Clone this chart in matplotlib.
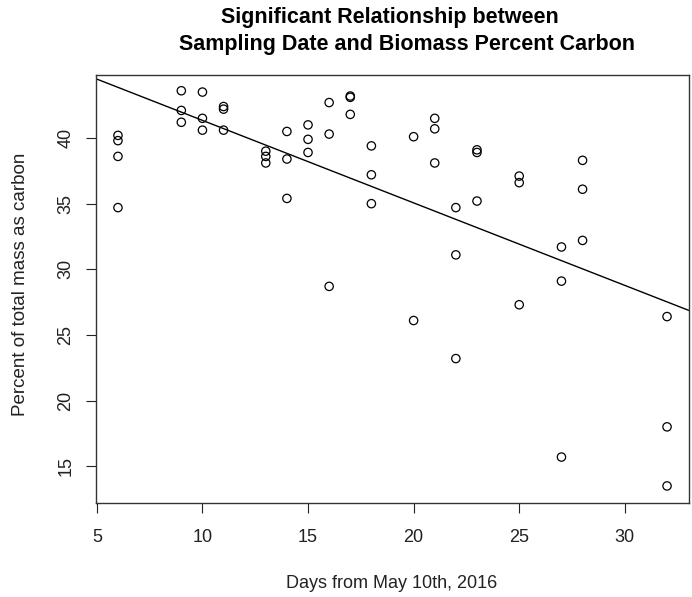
import numpy as np
import matplotlib
matplotlib.use('Agg')
import matplotlib.pyplot as plt

plt.rcParams['font.family'] = ['Liberation Sans', 'DejaVu Sans']

days = [6, 6, 6, 6,
        9, 9, 9,
        10, 10, 10,
        11, 11, 11,
        13, 13, 13,
        14, 14, 14,
        15, 15, 15,
        16, 16, 16,
        17, 17, 17,
        18, 18, 18,
        20, 20,
        21, 21, 21,
        22, 22, 22,
        23, 23, 23,
        25, 25, 25,
        27, 27, 27,
        28, 28, 28,
        32, 32, 32]
carbon = [40.2, 39.8, 38.6, 34.7,
          43.6, 42.1, 41.2,
          43.5, 41.5, 40.6,
          42.4, 42.2, 40.6,
          39.0, 38.6, 38.1,
          40.5, 38.4, 35.4,
          41.0, 39.9, 38.9,
          42.7, 40.3, 28.7,
          43.2, 43.1, 41.8,
          39.4, 37.2, 35.0,
          40.1, 26.1,
          41.5, 40.7, 38.1,
          34.7, 31.1, 23.2,
          39.1, 38.9, 35.2,
          37.1, 36.6, 27.3,
          31.7, 29.1, 15.7,
          38.3, 36.1, 32.2,
          26.4, 18.0, 13.5]

# fitted line (intercept, slope) as drawn
fit_intercept = 47.63
fit_slope = -0.6285

fig = plt.figure(figsize=(6.92, 5.97), dpi=100)
ax = fig.add_axes([96/692, 1-503/597, (689-96)/692, (503-75)/597])

ax.scatter(days, carbon, s=36, facecolors='none', edgecolors='black', linewidths=0.9)
ax.axline((0, fit_intercept), slope=fit_slope, color='black', lw=1.0)

ax.set_xlim(4.96, 33.04)
ax.set_ylim(12.2, 44.8)
ax.set_xticks([5, 10, 15, 20, 25, 30])
ax.set_yticks([15, 20, 25, 30, 35, 40])
ax.tick_params(direction='out', length=7.5, width=0.8, labelsize=13, colors='#222222')
ax.tick_params(axis='x', pad=11)
ax.tick_params(axis='y', pad=8)
for lab in ax.get_yticklabels():
    lab.set_rotation(90)
    lab.set_va('center')
for sp in ax.spines.values():
    sp.set_linewidth(1.0)
    sp.set_color('#333333')

fig.text(392/692, 1-588/597, 'Days from May 10th, 2016', ha='center', va='baseline',
         fontsize=13, color='#222222')
fig.text(21/692, 1-284.5/597, 'Percent of total mass as carbon', ha='center', va='center',
         rotation=90, fontsize=13.5, color='#222222')

fig.text(221/692, 1-23/597, 'Significant Relationship between', ha='left', va='baseline',
         fontsize=15.5, fontweight='bold')
fig.text(179/692, 1-50/597, 'Sampling Date and Biomass Percent Carbon', ha='left', va='baseline',
         fontsize=15.5, fontweight='bold')

fig.savefig('out.png', dpi=100)
